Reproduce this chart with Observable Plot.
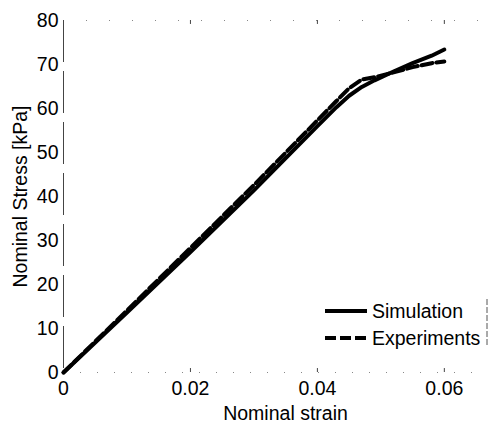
<!DOCTYPE html>
<html>
<head>
<meta charset="utf-8">
<script src="https://cdn.jsdelivr.net/npm/d3@7"></script>
<script src="https://cdn.jsdelivr.net/npm/@observablehq/plot@0.6"></script>
<style>
  html, body { margin: 0; padding: 0; background: #fff; }
  #wrap { position: relative; width: 504px; height: 422px; }
  #legend { position: absolute; left: 0; top: 0; pointer-events: none; }
  svg text { font-family: "Liberation Sans", Arial, sans-serif; }
</style>
</head>
<body>
<div id="wrap">
  <div id="chart"></div>
  <svg id="legend" width="504" height="422"></svg>
</div>
<script>
// ---- data ----
const strain = [0, 0.01, 0.02, 0.03, 0.04, 0.043, 0.045, 0.047, 0.049, 0.052, 0.055, 0.058, 0.06];
const simulation = [0, 13.6, 27.4, 41.4, 56.0, 60.3, 62.9, 64.9, 66.4, 68.4, 70.3, 72.0, 73.4];
const experiments = [0, 14.1, 28.3, 42.6, 57.3, 61.7, 64.6, 66.6, 67.1, 68.2, 69.4, 70.3, 70.7];
const xTicks = [0, 0.02, 0.04, 0.06];
const yTicks = [0, 10, 20, 30, 40, 50, 60, 70, 80];
const seriesNames = ["Simulation", "Experiments"];
const xLabel = "Nominal strain";
const yLabel = "Nominal Stress [kPa]";

const simData = strain.map((s, i) => ({strain: s, stress: simulation[i]}));
const expData = strain.map((s, i) => ({strain: s, stress: experiments[i]}));

const chart = Plot.plot({
  width: 504,
  height: 422,
  marginLeft: 63,
  marginRight: 17,
  marginTop: 20,
  marginBottom: 50,
  style: {fontSize: "19.5px", fontFamily: "'Liberation Sans', Arial, sans-serif", color: "#000", background: "#fff"},
  x: {domain: [0, 0.0668]},
  y: {domain: [0, 80]},
  marks: [
    Plot.ruleY([80], {stroke: "#888", strokeDasharray: "1,22", strokeWidth: 1}),
    Plot.ruleY([0], {stroke: "#888", strokeDasharray: "1,16", strokeWidth: 1}),
    Plot.ruleX([0], {stroke: "#444", strokeDasharray: "42,9", strokeWidth: 1}),
    Plot.ruleX(xTicks.slice(1), {y1: 0, y2: 0.9, stroke: "#444"}),
    Plot.ruleX(xTicks.slice(1), {y1: 80, y2: 79.1, stroke: "#444"}),
    Plot.axisX({ticks: xTicks, tickSize: 0, tickPadding: 9, tickFormat: d => d === 0 ? "0" : d3.format(".2f")(d), label: null}),
    Plot.text([xLabel], {text: d => d, frameAnchor: "bottom", lineAnchor: "bottom", dx: 10, dy: 47, fill: "#000"}),
    Plot.axisY({ticks: yTicks, tickSize: 0, tickPadding: 5, label: yLabel, labelAnchor: "center", labelArrow: "none", labelOffset: 50}),
    Plot.line(expData, {x: "strain", y: "stress", stroke: "#000", strokeWidth: 4, strokeDasharray: "11,4"}),
    Plot.line(simData, {x: "strain", y: "stress", stroke: "#000", strokeWidth: 4})
  ]
});
document.getElementById("chart").appendChild(chart);

// ---- legend ----
const leg = d3.select("#legend");
const rows = [{name: seriesNames[0], dash: null, y: 311}, {name: seriesNames[1], dash: "11,4", y: 338}];
rows.forEach(r => {
  leg.append("line").attr("x1", 325).attr("x2", 367).attr("y1", r.y).attr("y2", r.y)
    .attr("stroke", "#000").attr("stroke-width", 4).attr("stroke-dasharray", r.dash);
  leg.append("text").attr("x", 372).attr("y", r.y).attr("dy", "0.35em")
    .attr("font-size", "19.5px").attr("fill", "#000").text(r.name);
});
leg.append("line").attr("x1", 487).attr("x2", 487).attr("y1", 299).attr("y2", 346)
  .attr("stroke", "#555").attr("stroke-width", 1).attr("stroke-dasharray", "6,2");
</script>
</body>
</html>
